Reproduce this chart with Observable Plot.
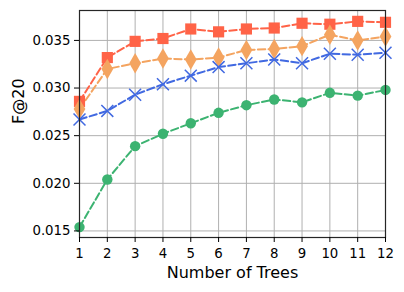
<!DOCTYPE html>
<html>
<head>
<meta charset="utf-8">
<script src="https://cdn.jsdelivr.net/npm/d3@7"></script>
<script src="https://cdn.jsdelivr.net/npm/@observablehq/plot@0.6"></script>
<style>
  html, body { margin: 0; padding: 0; background: #fff; }
</style>
</head>
<body>
<div id="chart"></div>
<script>
const trees = [1, 2, 3, 4, 5, 6, 7, 8, 9, 10, 11, 12];
const seriesNames = ["A", "B", "C", "D"];
const redVals    = [0.0286, 0.0332, 0.0349, 0.0352, 0.0362, 0.0359, 0.0362, 0.0363, 0.0368, 0.0367, 0.0370, 0.0369];
const orangeVals = [0.0278, 0.0320, 0.0326, 0.0331, 0.0330, 0.0332, 0.0340, 0.0341, 0.0344, 0.0356, 0.0350, 0.0354];
const blueVals   = [0.0267, 0.0276, 0.0293, 0.0304, 0.0313, 0.0322, 0.0326, 0.0330, 0.0326, 0.0336, 0.0335, 0.0337];
const greenVals  = [0.0154, 0.0204, 0.0239, 0.0252, 0.0263, 0.0274, 0.0282, 0.0288, 0.0285, 0.0295, 0.0292, 0.0298];
const yTicks = [0.015, 0.020, 0.025, 0.030, 0.035];
const xLabel = "Number of Trees";
const yLabel = "F@20";

const colors = ["#ff6347", "#f4a460", "#4169e1", "#3cb371"];
const symbols = ["square", "diamond", "times", "circle"];
const radii = [6.3, 6.2, 5.5, 5.2];
const allVals = [redVals, orangeVals, blueVals, greenVals];

const data = [];
seriesNames.forEach((s, i) => trees.forEach((t, j) => data.push({series: s, idx: i, x: t, y: allVals[i][j]})));

const lineMarks = [];
const dotMarks = [];
seriesNames.forEach((s, i) => {
  const d = data.filter(r => r.series === s);
  lineMarks.push(Plot.line(d, {x: "x", y: "y", stroke: colors[i], strokeWidth: 2, strokeDasharray: "7.4,3.2"}));
  if (symbols[i] === "times") {
    dotMarks.push(Plot.dot(d, {x: "x", y: "y", symbol: "times", r: radii[i], stroke: colors[i], strokeWidth: 1.5, fill: "none"}));
  } else {
    dotMarks.push(Plot.dot(d, {x: "x", y: "y", symbol: symbols[i], r: radii[i], fill: colors[i], stroke: "none"}));
  }
});

const chart = Plot.plot({
  width: 404,
  height: 292,
  marginLeft: 79,
  marginRight: 19,
  marginTop: 10,
  marginBottom: 55,
  style: {fontFamily: "DejaVu Sans", fontSize: "13.3px", color: "#000", background: "#fff"},
  x: {domain: [1, 12], ticks: trees, tickFormat: d => String(d)},
  y: {domain: [0.01431, 0.03814], ticks: yTicks, tickFormat: d3.format(".3f")},
  marks: [
    Plot.gridX(trees, {stroke: "#b0b0b0", strokeOpacity: 1, strokeWidth: 1}),
    Plot.gridY(yTicks, {stroke: "#b0b0b0", strokeOpacity: 1, strokeWidth: 1}),
    ...lineMarks,
    ...dotMarks,
    Plot.frame({stroke: "#262626", strokeWidth: 1.2}),
    Plot.axisX(trees, {tickSize: 5, tickPadding: 6, label: null, tickFormat: d => String(d), fontSize: 13.3}),
    Plot.axisY(yTicks, {tickSize: 5, tickPadding: 4, label: null, tickFormat: d3.format(".3f"), fontSize: 13.3}),
    Plot.text([xLabel], {frameAnchor: "bottom", dy: 40, text: d => d, fontSize: 16, fill: "#000"}),
    Plot.text([yLabel], {frameAnchor: "left", dx: -61, rotate: -90, text: d => d, fontSize: 16, fill: "#000"})
  ]
});
document.getElementById("chart").appendChild(chart);
</script>
</body>
</html>
